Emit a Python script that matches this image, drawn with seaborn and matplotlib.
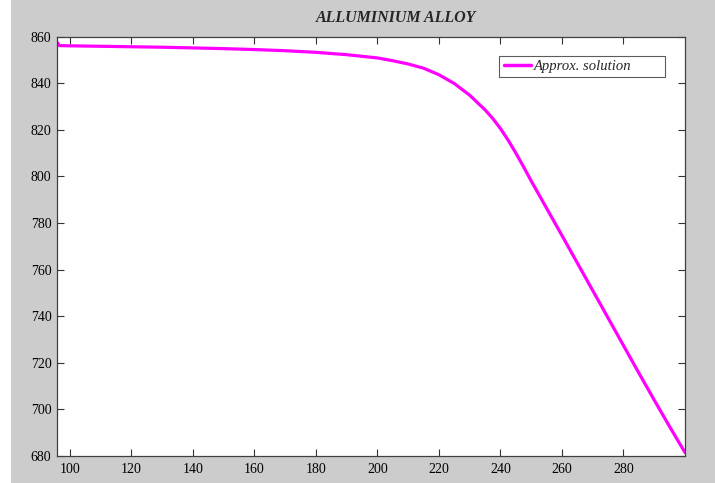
import numpy as np
import pandas as pd
import matplotlib
matplotlib.use("Agg")
import matplotlib.pyplot as plt
import seaborn as sns
from matplotlib.patches import Rectangle

# Values
x_vals = [95.8, 96.6, 100, 110, 120, 130, 140, 150, 160, 170, 180, 190,
          200, 205, 210, 215, 220, 225, 230, 235, 237.5, 240, 242.5, 245, 247.5, 250,
          255, 260, 265, 270, 275, 280, 285, 290, 295, 300]
y_vals = [857.6, 856.1, 856.0, 855.8, 855.6, 855.4, 855.1, 854.8, 854.4, 853.9, 853.2, 852.2,
          850.8, 849.6, 848.2, 846.4, 843.6, 839.8, 834.8, 828.5, 824.8, 820.5, 815.5, 810.0, 804.1, 798.0,
          786.3, 774.6, 762.8, 751.0, 739.2, 727.4, 715.6, 704.0, 692.6, 681.5]
x_ticks = [100, 120, 140, 160, 180, 200, 220, 240, 260, 280]
y_ticks = [680, 700, 720, 740, 760, 780, 800, 820, 840, 860]

df = pd.DataFrame({"x": x_vals, "y": y_vals, "series": "Approx. solution"})

sns.set_style("ticks")
plt.rcParams["font.family"] = ["Liberation Serif", "DejaVu Serif"]

fig = plt.figure(figsize=(7.15, 4.83), dpi=100)
fig.patch.set_facecolor("#cccccc")
fig.add_artist(Rectangle((0, 0), 11 / 715, 1, transform=fig.transFigure,
                         facecolor="white", edgecolor="none"))
ax = fig.add_axes([57 / 715, 27 / 483, 628 / 715, 419.5 / 483])
ax.set_facecolor("white")

sns.lineplot(data=df, x="x", y="y", hue="series", palette=["#ff00ff"],
             linewidth=2.3, ax=ax)

ax.set_xlim(95.8, 300)
ax.set_ylim(680, 860)
ax.set_xticks(x_ticks)
ax.set_yticks(y_ticks)
ax.tick_params(direction="in", length=5, width=0.8, colors="#333333",
               labelcolor="black", labelsize=10, top=True, right=True, pad=4)
ax.tick_params(axis="x", pad=5)
for s in ax.spines.values():
    s.set_visible(True)
    s.set_color("#404040")
    s.set_linewidth(0.9)
ax.set_xlabel("")
ax.set_ylabel("")

ax.text(0.54, 1.024, "ALLUMINIUM ALLOY", transform=ax.transAxes, ha="center",
        va="bottom", fontsize=11.5, fontweight="bold", fontstyle="italic")

leg = ax.legend(loc="upper right", bbox_to_anchor=(0.979, 0.972), frameon=True,
                fancybox=False, handlelength=1.9, handletextpad=0.15,
                borderpad=0.3, prop={"style": "italic", "size": 10.5})
leg.get_texts()[0].set_text("Approx. solution        ")
leg.get_frame().set_edgecolor("#333333")
leg.get_frame().set_linewidth(0.8)
leg.get_lines()[0].set_linewidth(2.5)

fig.savefig("out.png", dpi=100, facecolor=fig.get_facecolor())
